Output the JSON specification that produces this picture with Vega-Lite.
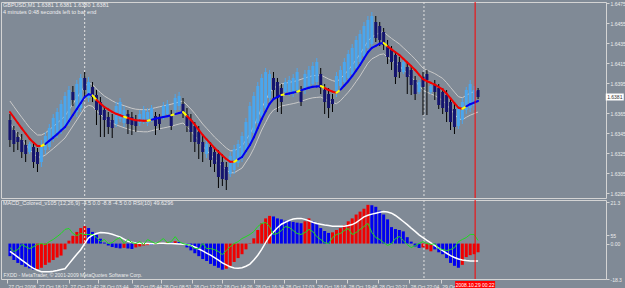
{
"$schema": "https://vega.github.io/schema/vega-lite/v6.json",
"background": "#808a96",
"padding": 0,
"spacing": 2,
"bounds": "flush",
"config": {
 "font": "Liberation Sans",
 "view": {"stroke": "#d4d4d4", "strokeWidth": 1},
 "axis": {"labelFont": "Liberation Sans", "labelFontSize": 5, "labelColor": "#ececec", "tickColor": "#d4d4d4", "domain": false, "grid": false, "tickSize": 3, "labelPadding": 1, "title": null}
},
"datasets": {
 "seps": [{"i": 19}, {"i": 105.25}],
 "cur": [{"i": 118.25, "p": 1.6381, "pl": "1.6381", "tl": "2008.10.29 00:22"}],
 "lv": [{"v": 0}, {"v": 4.4}],
 "bars": [
{"i":0,"o":1.6358,"h":1.6364,"l":1.6331,"c":1.6338,"m":1.6366,"u":1.6377,"lo":1.6355,"t":"dn","d":-6.5,"k":"r","s":-4,"r":-2.1},
{"i":1,"o":1.6348,"h":1.6352,"l":1.6326,"c":1.6334,"m":1.63605,"u":1.63715,"lo":1.63495,"t":"dn","d":-8.5,"k":"r","s":-5.5,"r":-4.1},
{"i":2,"o":1.6341,"h":1.6346,"l":1.6328,"c":1.6336,"m":1.6355,"u":1.6366,"lo":1.6344,"t":"dn","d":-10,"k":"r","s":-7,"r":-3.1},
{"i":3,"o":1.6338,"h":1.6344,"l":1.632,"c":1.6326,"m":1.63497,"u":1.63607,"lo":1.63387,"t":"dn","d":-11,"k":"r","s":-8.5,"r":-0.5},
{"i":4,"o":1.6333,"h":1.6338,"l":1.6316,"c":1.6324,"m":1.63445,"u":1.63555,"lo":1.63335,"t":"dn","d":-12,"k":"r","s":-10,"r":-1.6},
{"i":5,"o":1.6326,"h":1.6336,"l":1.6324,"c":1.6334,"m":1.63393,"u":1.63503,"lo":1.63283,"t":"dn","d":-12.8,"k":"r","s":-11.5,"r":-2.6},
{"i":6,"o":1.6331,"h":1.6336,"l":1.631,"c":1.6316,"m":1.63354,"u":1.63464,"lo":1.63244,"t":"dn","d":-13.5,"k":"r","s":-12.8,"r":-1.6},
{"i":7,"o":1.6326,"h":1.633,"l":1.6306,"c":1.6314,"m":1.6332,"u":1.6343,"lo":1.6321,"t":"dn","d":-13.2,"k":"b","s":-13.8,"r":-0.5},
{"i":8,"o":1.6316,"h":1.6338,"l":1.6311,"c":1.6331,"m":1.6332,"u":1.6343,"lo":1.6321,"t":"yl","d":-12.5,"k":"b","s":-14.5,"r":0},
{"i":9,"o":1.6328,"h":1.6346,"l":1.6324,"c":1.6342,"m":1.6334,"u":1.6345,"lo":1.6323,"t":"up","d":-11,"k":"b","s":-14.6,"r":-0.5},
{"i":10,"o":1.6331,"h":1.6354,"l":1.6328,"c":1.635,"m":1.63372,"u":1.63482,"lo":1.63262,"t":"up","d":-9.8,"k":"b","s":-14.5,"r":1},
{"i":11,"o":1.634,"h":1.6364,"l":1.6336,"c":1.636,"m":1.63404,"u":1.63514,"lo":1.63294,"t":"up","d":-8.5,"k":"b","s":-14.3,"r":2.1},
{"i":12,"o":1.6344,"h":1.637,"l":1.634,"c":1.6366,"m":1.63438,"u":1.63548,"lo":1.63328,"t":"up","d":-7.2,"k":"b","s":-13.9,"r":3.6},
{"i":13,"o":1.6348,"h":1.6378,"l":1.6344,"c":1.6374,"m":1.63474,"u":1.63584,"lo":1.63364,"t":"up","d":-6.2,"k":"b","s":-13.4,"r":5.2},
{"i":14,"o":1.6352,"h":1.6386,"l":1.6348,"c":1.6382,"m":1.6351,"u":1.6362,"lo":1.634,"t":"up","d":-3,"k":"b","s":-13,"r":7.3},
{"i":15,"o":1.6356,"h":1.6392,"l":1.6352,"c":1.6388,"m":1.6357,"u":1.6368,"lo":1.6346,"t":"up","d":1.5,"k":"b","s":-10.5,"r":7.8},
{"i":16,"o":1.6386,"h":1.6392,"l":1.6372,"c":1.6378,"m":1.6363,"u":1.6374,"lo":1.6352,"t":"up","d":4,"k":"b","s":-8,"r":5.2},
{"i":17,"o":1.6366,"h":1.6398,"l":1.6361,"c":1.6394,"m":1.6369,"u":1.638,"lo":1.6358,"t":"up","d":6,"k":"b","s":-5.5,"r":4.1},
{"i":18,"o":1.637,"h":1.6404,"l":1.6366,"c":1.64,"m":1.6375,"u":1.6386,"lo":1.6364,"t":"up","d":8,"k":"b","s":-3.2,"r":5.2},
{"i":19,"o":1.64,"h":1.6406,"l":1.6381,"c":1.6388,"m":1.6381,"u":1.6392,"lo":1.637,"t":"up","d":9,"k":"b","s":0,"r":4.7},
{"i":20,"o":1.638,"h":1.6401,"l":1.6376,"c":1.6396,"m":1.63837,"u":1.63947,"lo":1.63727,"t":"up","d":8,"k":"r","s":3,"r":4.7},
{"i":21,"o":1.6391,"h":1.6396,"l":1.6376,"c":1.6381,"m":1.63827,"u":1.63937,"lo":1.63717,"t":"yl","d":6,"k":"r","s":4.3,"r":4.7},
{"i":22,"o":1.6383,"h":1.6388,"l":1.6353,"c":1.6368,"m":1.6378,"u":1.6389,"lo":1.6367,"t":"dn","d":4.5,"k":"r","s":5.2,"r":3.1},
{"i":23,"o":1.6376,"h":1.6381,"l":1.6341,"c":1.6363,"m":1.63745,"u":1.63855,"lo":1.63635,"t":"dn","d":2.5,"k":"r","s":5.7,"r":1},
{"i":24,"o":1.6368,"h":1.6372,"l":1.6341,"c":1.6358,"m":1.6371,"u":1.6382,"lo":1.636,"t":"dn","d":0.5,"k":"r","s":5.6,"r":2.1},
{"i":25,"o":1.6361,"h":1.6366,"l":1.6344,"c":1.6351,"m":1.63686,"u":1.63796,"lo":1.63576,"t":"dn","d":-1,"k":"r","s":5.3,"r":0},
{"i":26,"o":1.6358,"h":1.6364,"l":1.634,"c":1.635,"m":1.63662,"u":1.63772,"lo":1.63552,"t":"dn","d":-1.8,"k":"r","s":4.8,"r":0.5},
{"i":27,"o":1.6354,"h":1.6376,"l":1.6351,"c":1.6372,"m":1.63642,"u":1.63752,"lo":1.63532,"t":"dn","d":-2.2,"k":"r","s":4.1,"r":2.1},
{"i":28,"o":1.6359,"h":1.638,"l":1.6356,"c":1.6376,"m":1.63627,"u":1.63737,"lo":1.63517,"t":"dn","d":-2.5,"k":"r","s":3.4,"r":3.1},
{"i":29,"o":1.6355,"h":1.6372,"l":1.6351,"c":1.6368,"m":1.63613,"u":1.63723,"lo":1.63503,"t":"yl","d":-2.2,"k":"b","s":2.3,"r":0},
{"i":30,"o":1.6364,"h":1.6368,"l":1.6344,"c":1.6354,"m":1.636,"u":1.6371,"lo":1.6349,"t":"dn","d":-2.5,"k":"r","s":1.2,"r":2.1},
{"i":31,"o":1.6361,"h":1.6366,"l":1.6343,"c":1.6353,"m":1.63587,"u":1.63697,"lo":1.63477,"t":"dn","d":-2.8,"k":"r","s":0.7,"r":0.5},
{"i":32,"o":1.6358,"h":1.6363,"l":1.6346,"c":1.6352,"m":1.63578,"u":1.63688,"lo":1.63468,"t":"dn","d":-2,"k":"b","s":0.3,"r":0},
{"i":33,"o":1.6355,"h":1.6368,"l":1.6352,"c":1.6364,"m":1.63575,"u":1.63685,"lo":1.63465,"t":"dn","d":-1.5,"k":"b","s":0.1,"r":1},
{"i":34,"o":1.6357,"h":1.6372,"l":1.6354,"c":1.6368,"m":1.63572,"u":1.63682,"lo":1.63462,"t":"dn","d":-1,"k":"b","s":0,"r":-0.5},
{"i":35,"o":1.6355,"h":1.637,"l":1.6352,"c":1.6366,"m":1.63572,"u":1.63682,"lo":1.63462,"t":"yl","d":-0.8,"k":"b","s":0,"r":2.1},
{"i":36,"o":1.6359,"h":1.6373,"l":1.6356,"c":1.637,"m":1.63583,"u":1.63693,"lo":1.63473,"t":"up","d":-0.6,"k":"r","s":-0.1,"r":1},
{"i":37,"o":1.6362,"h":1.6366,"l":1.6343,"c":1.6352,"m":1.63593,"u":1.63703,"lo":1.63483,"t":"up","d":-0.3,"k":"b","s":0,"r":0},
{"i":38,"o":1.636,"h":1.6364,"l":1.6348,"c":1.6354,"m":1.63602,"u":1.63712,"lo":1.63492,"t":"up","d":0.5,"k":"b","s":0.1,"r":1},
{"i":39,"o":1.6362,"h":1.6376,"l":1.6358,"c":1.6372,"m":1.6361,"u":1.6372,"lo":1.635,"t":"up","d":0.3,"k":"r","s":0.1,"r":2.6},
{"i":40,"o":1.6364,"h":1.6378,"l":1.636,"c":1.6374,"m":1.63618,"u":1.63728,"lo":1.63508,"t":"up","d":0.8,"k":"b","s":0,"r":0.5},
{"i":41,"o":1.6362,"h":1.6368,"l":1.6348,"c":1.6352,"m":1.63628,"u":1.63738,"lo":1.63518,"t":"yl","d":0.5,"k":"r","s":0,"r":1},
{"i":42,"o":1.6368,"h":1.6384,"l":1.6364,"c":1.638,"m":1.63639,"u":1.63749,"lo":1.63529,"t":"up","d":1.2,"k":"b","s":-0.1,"r":3.6},
{"i":43,"o":1.6372,"h":1.6386,"l":1.6368,"c":1.6382,"m":1.6365,"u":1.6376,"lo":1.6354,"t":"up","d":0.8,"k":"r","s":-0.2,"r":1},
{"i":44,"o":1.6374,"h":1.638,"l":1.636,"c":1.6366,"m":1.6366,"u":1.6377,"lo":1.6355,"t":"yl","d":-0.5,"k":"r","s":-0.3,"r":0},
{"i":45,"o":1.6364,"h":1.637,"l":1.6346,"c":1.6352,"m":1.6362,"u":1.6373,"lo":1.6351,"t":"dn","d":-2,"k":"r","s":-0.5,"r":-0.5},
{"i":46,"o":1.6358,"h":1.6364,"l":1.6336,"c":1.6346,"m":1.6358,"u":1.6369,"lo":1.6347,"t":"dn","d":-3.5,"k":"r","s":-1,"r":-1},
{"i":47,"o":1.6352,"h":1.6356,"l":1.6326,"c":1.6336,"m":1.63534,"u":1.63644,"lo":1.63424,"t":"dn","d":-5,"k":"r","s":-1.8,"r":-2.6},
{"i":48,"o":1.6346,"h":1.6352,"l":1.6319,"c":1.6334,"m":1.63482,"u":1.63592,"lo":1.63372,"t":"dn","d":-6.5,"k":"r","s":-2.8,"r":-2.6},
{"i":49,"o":1.6336,"h":1.6343,"l":1.6316,"c":1.6326,"m":1.6343,"u":1.6354,"lo":1.6332,"t":"dn","d":-8,"k":"r","s":-3.8,"r":0},
{"i":50,"o":1.6324,"h":1.6338,"l":1.632,"c":1.6334,"m":1.63387,"u":1.63497,"lo":1.63277,"t":"dn","d":-9,"k":"r","s":-4.9,"r":-2.6},
{"i":51,"o":1.6331,"h":1.6336,"l":1.6311,"c":1.6318,"m":1.63344,"u":1.63454,"lo":1.63234,"t":"dn","d":-10.5,"k":"r","s":-6,"r":-2.6},
{"i":52,"o":1.6326,"h":1.6331,"l":1.6306,"c":1.6314,"m":1.633,"u":1.6341,"lo":1.6319,"t":"dn","d":-11.5,"k":"r","s":-7.3,"r":-3.1},
{"i":53,"o":1.6324,"h":1.6328,"l":1.629,"c":1.6301,"m":1.63263,"u":1.63373,"lo":1.63153,"t":"dn","d":-12.5,"k":"r","s":-8.6,"r":-4.1},
{"i":54,"o":1.6316,"h":1.6324,"l":1.6292,"c":1.6299,"m":1.63226,"u":1.63336,"lo":1.63116,"t":"dn","d":-13.5,"k":"r","s":-10,"r":-5.7},
{"i":55,"o":1.6311,"h":1.6316,"l":1.6288,"c":1.6298,"m":1.6319,"u":1.633,"lo":1.6308,"t":"dn","d":-13,"k":"b","s":-11,"r":-3.6},
{"i":56,"o":1.6304,"h":1.6326,"l":1.6301,"c":1.6322,"m":1.63163,"u":1.63273,"lo":1.63053,"t":"dn","d":-11.5,"k":"b","s":-12,"r":-1.6},
{"i":57,"o":1.6308,"h":1.6333,"l":1.6304,"c":1.6329,"m":1.63162,"u":1.63272,"lo":1.63052,"t":"yl","d":-9.5,"k":"b","s":-12.6,"r":0},
{"i":58,"o":1.6315,"h":1.6338,"l":1.6311,"c":1.6334,"m":1.63186,"u":1.63296,"lo":1.63076,"t":"up","d":-7.5,"k":"b","s":-12.7,"r":1},
{"i":59,"o":1.632,"h":1.6346,"l":1.6316,"c":1.6342,"m":1.6321,"u":1.6332,"lo":1.631,"t":"up","d":-5.5,"k":"b","s":-12.5,"r":2.6},
{"i":60,"o":1.6328,"h":1.636,"l":1.6324,"c":1.6356,"m":1.6327,"u":1.6338,"lo":1.6316,"t":"up","d":-3,"k":"b","s":-11.7,"r":3.6},
{"i":61,"o":1.6335,"h":1.6376,"l":1.6331,"c":1.6372,"m":1.6333,"u":1.6344,"lo":1.6322,"t":"up","d":0.2,"k":"b","s":-10.6,"r":4.7},
{"i":62,"o":1.6345,"h":1.6386,"l":1.6341,"c":1.6382,"m":1.63406,"u":1.63516,"lo":1.63296,"t":"up","d":2.7,"k":"b","s":-8.5,"r":6.2},
{"i":63,"o":1.6355,"h":1.6396,"l":1.6351,"c":1.6392,"m":1.63498,"u":1.63608,"lo":1.63388,"t":"up","d":7,"k":"b","s":-6,"r":8.8},
{"i":64,"o":1.6362,"h":1.6404,"l":1.6358,"c":1.64,"m":1.6359,"u":1.637,"lo":1.6348,"t":"up","d":10.5,"k":"b","s":-3,"r":10.4},
{"i":65,"o":1.637,"h":1.641,"l":1.6366,"c":1.6406,"m":1.63666,"u":1.63776,"lo":1.63556,"t":"up","d":13,"k":"b","s":0.5,"r":10.9},
{"i":66,"o":1.638,"h":1.6408,"l":1.6376,"c":1.6404,"m":1.63742,"u":1.63852,"lo":1.63632,"t":"up","d":14.3,"k":"b","s":3.8,"r":8.8},
{"i":67,"o":1.64,"h":1.6406,"l":1.6378,"c":1.6388,"m":1.6379,"u":1.639,"lo":1.6368,"t":"up","d":14,"k":"r","s":6,"r":4.7},
{"i":68,"o":1.6396,"h":1.64,"l":1.6366,"c":1.638,"m":1.6381,"u":1.6392,"lo":1.637,"t":"up","d":13,"k":"r","s":8.2,"r":5.2},
{"i":69,"o":1.639,"h":1.6394,"l":1.6364,"c":1.6376,"m":1.6383,"u":1.6394,"lo":1.6372,"t":"yl","d":12.5,"k":"r","s":10,"r":6.7},
{"i":70,"o":1.6386,"h":1.64,"l":1.6384,"c":1.6396,"m":1.63838,"u":1.63948,"lo":1.63728,"t":"up","d":11.8,"k":"r","s":11,"r":8.8},
{"i":71,"o":1.6386,"h":1.6402,"l":1.6382,"c":1.6398,"m":1.63846,"u":1.63956,"lo":1.63736,"t":"up","d":11.5,"k":"r","s":12,"r":8.3},
{"i":72,"o":1.6385,"h":1.6404,"l":1.6381,"c":1.64,"m":1.63854,"u":1.63964,"lo":1.63744,"t":"up","d":11.2,"k":"r","s":12.7,"r":6.7},
{"i":73,"o":1.6388,"h":1.641,"l":1.6384,"c":1.6406,"m":1.63863,"u":1.63973,"lo":1.63753,"t":"yl","d":10.8,"k":"r","s":12.9,"r":5.2},
{"i":74,"o":1.6388,"h":1.6392,"l":1.6372,"c":1.6376,"m":1.63877,"u":1.63987,"lo":1.63767,"t":"up","d":10.5,"k":"r","s":13,"r":4.7},
{"i":75,"o":1.6388,"h":1.6408,"l":1.6384,"c":1.6404,"m":1.6389,"u":1.64,"lo":1.6378,"t":"up","d":11.5,"k":"b","s":12.5,"r":5.7},
{"i":76,"o":1.6392,"h":1.6412,"l":1.6388,"c":1.6408,"m":1.63903,"u":1.64013,"lo":1.63793,"t":"up","d":13,"k":"b","s":11.8,"r":7.3},
{"i":77,"o":1.6394,"h":1.6416,"l":1.6391,"c":1.6412,"m":1.63912,"u":1.64022,"lo":1.63802,"t":"up","d":11.5,"k":"r","s":11,"r":6.2},
{"i":78,"o":1.6396,"h":1.642,"l":1.6392,"c":1.6416,"m":1.63916,"u":1.64026,"lo":1.63806,"t":"up","d":10,"k":"r","s":10.4,"r":3.6},
{"i":79,"o":1.6404,"h":1.641,"l":1.6384,"c":1.639,"m":1.6392,"u":1.6403,"lo":1.6381,"t":"yl","d":8,"k":"r","s":10,"r":2.1},
{"i":80,"o":1.6388,"h":1.6394,"l":1.6364,"c":1.6376,"m":1.639,"u":1.6401,"lo":1.6379,"t":"dn","d":6.5,"k":"r","s":9.6,"r":0.5},
{"i":81,"o":1.6384,"h":1.639,"l":1.636,"c":1.637,"m":1.6388,"u":1.6399,"lo":1.6377,"t":"dn","d":5.5,"k":"r","s":9.3,"r":0},
{"i":82,"o":1.6379,"h":1.6384,"l":1.6366,"c":1.6374,"m":1.63864,"u":1.63974,"lo":1.63754,"t":"dn","d":5.8,"k":"b","s":9,"r":3.1},
{"i":83,"o":1.6385,"h":1.6406,"l":1.6381,"c":1.6402,"m":1.63853,"u":1.63963,"lo":1.63743,"t":"yl","d":7,"k":"b","s":8.9,"r":4.7},
{"i":84,"o":1.6392,"h":1.6412,"l":1.6388,"c":1.6408,"m":1.63882,"u":1.63992,"lo":1.63772,"t":"up","d":8,"k":"b","s":8.9,"r":5.2},
{"i":85,"o":1.6396,"h":1.642,"l":1.6392,"c":1.6416,"m":1.63925,"u":1.64035,"lo":1.63815,"t":"up","d":9.5,"k":"b","s":9,"r":6.7},
{"i":86,"o":1.64,"h":1.6428,"l":1.6396,"c":1.6424,"m":1.63968,"u":1.64078,"lo":1.63858,"t":"up","d":11.5,"k":"b","s":9.3,"r":7.8},
{"i":87,"o":1.6404,"h":1.6434,"l":1.64,"c":1.643,"m":1.64018,"u":1.64128,"lo":1.63908,"t":"up","d":13,"k":"b","s":9.8,"r":4.7},
{"i":88,"o":1.641,"h":1.6442,"l":1.6406,"c":1.6438,"m":1.64074,"u":1.64184,"lo":1.63964,"t":"up","d":15,"k":"b","s":10.8,"r":5.7},
{"i":89,"o":1.6416,"h":1.6448,"l":1.6412,"c":1.6444,"m":1.6413,"u":1.6424,"lo":1.6402,"t":"up","d":16.5,"k":"b","s":12.3,"r":7.3},
{"i":90,"o":1.6422,"h":1.6456,"l":1.6418,"c":1.6452,"m":1.64194,"u":1.64304,"lo":1.64084,"t":"up","d":18,"k":"b","s":13.8,"r":8.8},
{"i":91,"o":1.643,"h":1.6462,"l":1.6426,"c":1.6458,"m":1.64258,"u":1.64368,"lo":1.64148,"t":"up","d":20,"k":"b","s":14.6,"r":10.4},
{"i":92,"o":1.6434,"h":1.6466,"l":1.643,"c":1.6462,"m":1.64301,"u":1.64411,"lo":1.64191,"t":"up","d":19.8,"k":"r","s":15.2,"r":5.7},
{"i":93,"o":1.6456,"h":1.6462,"l":1.6436,"c":1.644,"m":1.64322,"u":1.64432,"lo":1.64212,"t":"up","d":19,"k":"r","s":15.7,"r":3.1},
{"i":94,"o":1.6452,"h":1.6456,"l":1.6432,"c":1.6438,"m":1.64344,"u":1.64454,"lo":1.64234,"t":"up","d":17,"k":"r","s":16.2,"r":2.1},
{"i":95,"o":1.6446,"h":1.645,"l":1.6428,"c":1.6433,"m":1.64351,"u":1.64461,"lo":1.64241,"t":"yl","d":15,"k":"r","s":16.5,"r":0.5},
{"i":96,"o":1.6433,"h":1.6438,"l":1.6414,"c":1.6421,"m":1.64317,"u":1.64427,"lo":1.64207,"t":"dn","d":12.5,"k":"r","s":16.3,"r":-1},
{"i":97,"o":1.6429,"h":1.6432,"l":1.6408,"c":1.6416,"m":1.64286,"u":1.64396,"lo":1.64176,"t":"dn","d":8.5,"k":"r","s":15.7,"r":0},
{"i":98,"o":1.6423,"h":1.6426,"l":1.6394,"c":1.6401,"m":1.64258,"u":1.64368,"lo":1.64148,"t":"dn","d":7.5,"k":"r","s":14.5,"r":2.6},
{"i":99,"o":1.6416,"h":1.6421,"l":1.64,"c":1.6406,"m":1.6423,"u":1.6434,"lo":1.6412,"t":"dn","d":7,"k":"r","s":13,"r":3.6},
{"i":100,"o":1.6406,"h":1.6418,"l":1.6404,"c":1.6416,"m":1.64193,"u":1.64303,"lo":1.64083,"t":"dn","d":6.3,"k":"r","s":11.4,"r":1.6},
{"i":101,"o":1.6411,"h":1.6416,"l":1.6384,"c":1.6401,"m":1.64156,"u":1.64266,"lo":1.64046,"t":"dn","d":3.3,"k":"r","s":9.8,"r":-0.5},
{"i":102,"o":1.6408,"h":1.6412,"l":1.6383,"c":1.6393,"m":1.64119,"u":1.64229,"lo":1.64009,"t":"dn","d":1,"k":"r","s":8,"r":-2.1},
{"i":103,"o":1.6398,"h":1.6402,"l":1.6378,"c":1.6384,"m":1.6408,"u":1.6419,"lo":1.6397,"t":"dn","d":-1.5,"k":"r","s":6.3,"r":-1},
{"i":104,"o":1.6386,"h":1.6398,"l":1.6384,"c":1.6396,"m":1.64034,"u":1.64144,"lo":1.63924,"t":"dn","d":-2.3,"k":"r","s":4.5,"r":0},
{"i":105,"o":1.6401,"h":1.6406,"l":1.6363,"c":1.6391,"m":1.63989,"u":1.64099,"lo":1.63879,"t":"dn","d":-2,"k":"b","s":3.1,"r":1},
{"i":106,"o":1.6404,"h":1.6408,"l":1.6363,"c":1.6398,"m":1.63968,"u":1.64078,"lo":1.63858,"t":"dn","d":-3,"k":"b","s":1.7,"r":0},
{"i":107,"o":1.6386,"h":1.6394,"l":1.6384,"c":1.6392,"m":1.63952,"u":1.64062,"lo":1.63842,"t":"dn","d":-4,"k":"b","s":0.4,"r":-0.5},
{"i":108,"o":1.6394,"h":1.6398,"l":1.6378,"c":1.6386,"m":1.63934,"u":1.64044,"lo":1.63824,"t":"dn","d":-3,"k":"r","s":-1,"r":0},
{"i":109,"o":1.639,"h":1.6394,"l":1.6369,"c":1.6373,"m":1.6391,"u":1.6402,"lo":1.638,"t":"dn","d":-4.5,"k":"r","s":-2.3,"r":-2.6},
{"i":110,"o":1.6386,"h":1.639,"l":1.6364,"c":1.637,"m":1.63886,"u":1.63996,"lo":1.63776,"t":"dn","d":-5.5,"k":"r","s":-3.7,"r":-3.1},
{"i":111,"o":1.6383,"h":1.6388,"l":1.6356,"c":1.6366,"m":1.63844,"u":1.63954,"lo":1.63734,"t":"dn","d":-7.5,"k":"r","s":-5,"r":-3.6},
{"i":112,"o":1.6376,"h":1.638,"l":1.6348,"c":1.6356,"m":1.63796,"u":1.63906,"lo":1.63686,"t":"dn","d":-10,"k":"r","s":-6.2,"r":-3.1},
{"i":113,"o":1.6369,"h":1.6374,"l":1.6344,"c":1.6351,"m":1.63749,"u":1.63859,"lo":1.63639,"t":"dn","d":-11.5,"k":"r","s":-7.2,"r":-2.1},
{"i":114,"o":1.6352,"h":1.6373,"l":1.6349,"c":1.637,"m":1.63703,"u":1.63813,"lo":1.63593,"t":"dn","d":-12.5,"k":"r","s":-8,"r":1},
{"i":115,"o":1.6358,"h":1.638,"l":1.6354,"c":1.6376,"m":1.63692,"u":1.63802,"lo":1.63582,"t":"yl","d":-11,"k":"b","s":-8.5,"r":2.1},
{"i":116,"o":1.6368,"h":1.6391,"l":1.6364,"c":1.6388,"m":1.63717,"u":1.63827,"lo":1.63607,"t":"up","d":-7,"k":"b","s":-8.8,"r":3.1},
{"i":117,"o":1.637,"h":1.6398,"l":1.6366,"c":1.6394,"m":1.63738,"u":1.63848,"lo":1.63628,"t":"up","d":-6,"k":"b","s":-9,"r":4.7},
{"i":118,"o":1.6372,"h":1.6392,"l":1.6368,"c":1.6388,"m":1.63754,"u":1.63864,"lo":1.63644,"t":"up","d":-5.5,"k":"b","s":-9,"r":4.7},
{"i":119,"o":1.6388,"h":1.639,"l":1.6379,"c":1.6381,"m":1.6377,"u":1.6388,"lo":1.6366,"t":"up","d":-4.5,"k":"b","s":-9,"r":1.6}
 ]
},
"vconcat": [
 {
  "width": 605,
  "height": 196,
  "title": {"text": ["GBPUSD,M1  1.6381 1.6381 1.6380 1.6381", "4 minutes 0:48 seconds left to bar end"], "anchor": "start", "orient": "top", "offset": -14, "fontSize": 5.5, "fontWeight": "normal", "font": "Liberation Sans", "color": "#eeeeee", "lineHeight": 6.5, "dx": 2},
  "encoding": {
   "x": {"field": "i", "type": "quantitative", "scale": {"domain": [-1, 150.25], "nice": false, "zero": false}, "axis": null}
  },
  "layer": [
   {"data": {"name": "bars"}, "mark": {"type": "line", "color": "#c9c9c9", "strokeWidth": 1},
    "encoding": {"y": {"field": "u", "type": "quantitative", "scale": {"domain": [1.628, 1.6476], "nice": false, "zero": false},
      "axis": {"orient": "right", "values": [1.6475, 1.6455, 1.6435, 1.6415, 1.6395, 1.6365, 1.6345, 1.6325, 1.6305, 1.6285], "format": ".4f", "labelOverlap": false, "title": null}}}},
   {"data": {"name": "bars"}, "mark": {"type": "line", "color": "#c9c9c9", "strokeWidth": 1},
    "encoding": {"y": {"field": "lo", "type": "quantitative", "axis": {"orient": "right", "values": [1.6475, 1.6455, 1.6435, 1.6415, 1.6395, 1.6365, 1.6345, 1.6325, 1.6305, 1.6285], "format": ".4f", "labelOverlap": false, "title": null}}}},
   {"data": {"name": "seps"}, "mark": {"type": "rule", "color": "#e2e2e2", "strokeDash": [2, 2], "strokeWidth": 1}, "encoding": {}},
   {"data": {"name": "bars"}, "mark": {"type": "rule", "strokeWidth": 1},
    "encoding": {"y": {"field": "l", "type": "quantitative", "axis": {"orient": "right", "values": [1.6475, 1.6455, 1.6435, 1.6415, 1.6395, 1.6365, 1.6345, 1.6325, 1.6305, 1.6285], "format": ".4f", "labelOverlap": false, "title": null}}, "y2": {"field": "h"},
     "color": {"condition": {"test": "datum.c >= datum.o", "value": "#4aa6ee"}, "value": "#000000"}}},
   {"data": {"name": "bars"}, "mark": {"type": "bar", "width": 3},
    "encoding": {"y": {"field": "o", "type": "quantitative", "axis": {"orient": "right", "values": [1.6475, 1.6455, 1.6435, 1.6415, 1.6395, 1.6365, 1.6345, 1.6325, 1.6305, 1.6285], "format": ".4f", "labelOverlap": false, "title": null}}, "y2": {"field": "c"},
     "color": {"condition": {"test": "datum.c >= datum.o", "value": "#4aa6ee"}, "value": "#14146e"}}},
   {"data": {"name": "bars"},
    "transform": [{"window": [{"op": "lead", "field": "i", "as": "i2"}, {"op": "lead", "field": "m", "as": "m2"}], "sort": [{"field": "i", "order": "ascending"}]}, {"filter": "isValid(datum.i2)"}],
    "mark": {"type": "rule", "strokeWidth": 2, "strokeCap": "round"},
    "encoding": {"x2": {"field": "i2"}, "y": {"field": "m", "type": "quantitative", "axis": {"orient": "right", "values": [1.6475, 1.6455, 1.6435, 1.6415, 1.6395, 1.6365, 1.6345, 1.6325, 1.6305, 1.6285], "format": ".4f", "labelOverlap": false, "title": null}}, "y2": {"field": "m2"},
     "color": {"field": "t", "type": "nominal", "scale": {"domain": ["dn", "up", "yl"], "range": ["#f00000", "#0000f0", "#ffff00"]}, "legend": null}}},
   {"data": {"name": "cur"}, "mark": {"type": "rule", "color": "#ff0000", "strokeWidth": 1}, "encoding": {}},
   {"data": {"name": "cur"}, "mark": {"type": "tick", "orient": "horizontal", "size": 18, "thickness": 7, "color": "#ffffff", "opacity": 1},
    "encoding": {"x": {"datum": 153.75, "type": "quantitative", "axis": null}, "y": {"field": "p", "type": "quantitative", "axis": {"orient": "right", "values": [1.6475, 1.6455, 1.6435, 1.6415, 1.6395, 1.6365, 1.6345, 1.6325, 1.6305, 1.6285], "format": ".4f", "labelOverlap": false, "title": null}}}},
   {"data": {"name": "cur"}, "mark": {"type": "text", "fontSize": 5, "color": "#333333", "align": "center", "baseline": "middle"},
    "encoding": {"x": {"datum": 153.75, "type": "quantitative", "axis": null}, "y": {"field": "p", "type": "quantitative", "axis": {"orient": "right", "values": [1.6475, 1.6455, 1.6435, 1.6415, 1.6395, 1.6365, 1.6345, 1.6325, 1.6305, 1.6285], "format": ".4f", "labelOverlap": false, "title": null}}, "text": {"field": "pl"}}}
  ]
 },
 {
  "width": 605,
  "height": 79,
  "title": {"text": "MACD_Colored_v105 (12,26,9) -4.5 0.0 -8.8 -4.5 0.0  RSI(10) 49.6296", "anchor": "start", "orient": "top", "offset": -7, "fontSize": 5.5, "fontWeight": "normal", "font": "Liberation Sans", "color": "#eeeeee", "dx": 2},
  "encoding": {
   "x": {"field": "i", "type": "quantitative", "scale": {"domain": [-1, 150.25], "nice": false, "zero": false},
    "axis": {"values": [-0.75, 7, 15, 22.5, 31, 38.5, 46.25, 54, 62, 69.75, 77.75, 85.75, 93.5, 101.5, 109.5],
     "labelExpr": "['27 Oct 2008','27 Oct 18:12','27 Oct 21:42','28 Oct 03:44','28 Oct 05:44','28 Oct 08:51','28 Oct 12:22','28 Oct 14:26','28 Oct 16:34','28 Oct 17:03','28 Oct 18:18','28 Oct 19:48','28 Oct 20:21','28 Oct 22:04','29 Oct'][indexof([-0.75,7,15,22.5,31,38.5,46.25,54,62,69.75,77.75,85.75,93.5,101.5,109.5], datum.value)]",
     "labelAlign": "left", "labelBaseline": "top", "labelPadding": 1, "labelOffset": 1, "labelFontSize": 5, "labelOverlap": false, "labelFlush": false, "labelBound": false, "tickSize": 4,
     "title": "FXDD - MetaTrader, © 2001-2009 MetaQuotes Software Corp.", "titleFontSize": 5, "titleFontWeight": "normal", "titleColor": "#ececec", "titleFont": "Liberation Sans",
     "titleX": 2, "titleY": -2, "titleAlign": "left", "titleBaseline": "bottom", "titleAnchor": "start"}}
  },
  "layer": [
   {"data": {"name": "bars"}, "mark": {"type": "bar", "width": 3},
    "encoding": {"y": {"field": "d", "type": "quantitative", "scale": {"domain": [-18.3, 22.5], "nice": false, "zero": false},
      "axis": {"orient": "right", "values": [21.3, 4.4, 0, -18.3], "labelExpr": "datum.value == 4.4 ? '55' : datum.value == 0 ? '0.00' : datum.value == 21.3 ? '21.3' : '-18.3'", "labelOverlap": false, "title": null}},
     "y2": {"datum": 0},
     "color": {"field": "k", "type": "nominal", "scale": {"domain": ["b", "r"], "range": ["#0000ff", "#ff0000"]}, "legend": null}}},
   {"data": {"name": "lv"}, "mark": {"type": "rule", "color": "#d8d8d8", "strokeDash": [2, 2], "strokeWidth": 1},
    "encoding": {"x": {"datum": -1, "type": "quantitative"}, "x2": {"datum": 150.25}, "y": {"field": "v", "type": "quantitative", "axis": {"orient": "right", "values": [21.3, 4.4, 0, -18.3], "labelExpr": "datum.value == 4.4 ? '55' : datum.value == 0 ? '0.00' : datum.value == 21.3 ? '21.3' : '-18.3'", "labelOverlap": false, "title": null}}}},
   {"data": {"name": "seps"}, "mark": {"type": "rule", "color": "#e2e2e2", "strokeDash": [2, 2], "strokeWidth": 1}, "encoding": {}},
   {"data": {"name": "bars"}, "mark": {"type": "line", "color": "#ffffff", "strokeWidth": 1.5},
    "encoding": {"y": {"field": "s", "type": "quantitative", "axis": {"orient": "right", "values": [21.3, 4.4, 0, -18.3], "labelExpr": "datum.value == 4.4 ? '55' : datum.value == 0 ? '0.00' : datum.value == 21.3 ? '21.3' : '-18.3'", "labelOverlap": false, "title": null}}}},
   {"data": {"name": "bars"}, "mark": {"type": "line", "color": "#1fdc1f", "strokeWidth": 1},
    "encoding": {"y": {"field": "r", "type": "quantitative", "axis": {"orient": "right", "values": [21.3, 4.4, 0, -18.3], "labelExpr": "datum.value == 4.4 ? '55' : datum.value == 0 ? '0.00' : datum.value == 21.3 ? '21.3' : '-18.3'", "labelOverlap": false, "title": null}}}},
   {"data": {"name": "cur"}, "mark": {"type": "rule", "color": "#ff0000", "strokeWidth": 1}, "encoding": {}},
   {"data": {"name": "cur"}, "mark": {"type": "tick", "orient": "horizontal", "size": 40, "thickness": 8, "color": "#ff0000", "opacity": 1},
    "encoding": {"y": {"datum": -21.4, "type": "quantitative", "axis": {"orient": "right", "values": [21.3, 4.4, 0, -18.3], "labelExpr": "datum.value == 4.4 ? '55' : datum.value == 0 ? '0.00' : datum.value == 21.3 ? '21.3' : '-18.3'", "labelOverlap": false, "title": null}}}},
   {"data": {"name": "cur"}, "mark": {"type": "text", "fontSize": 5, "color": "#ffffff", "align": "center", "baseline": "middle"},
    "encoding": {"y": {"datum": -21.4, "type": "quantitative", "axis": {"orient": "right", "values": [21.3, 4.4, 0, -18.3], "labelExpr": "datum.value == 4.4 ? '55' : datum.value == 0 ? '0.00' : datum.value == 21.3 ? '21.3' : '-18.3'", "labelOverlap": false, "title": null}}, "text": {"field": "tl"}}}
  ]
 }
]
}
